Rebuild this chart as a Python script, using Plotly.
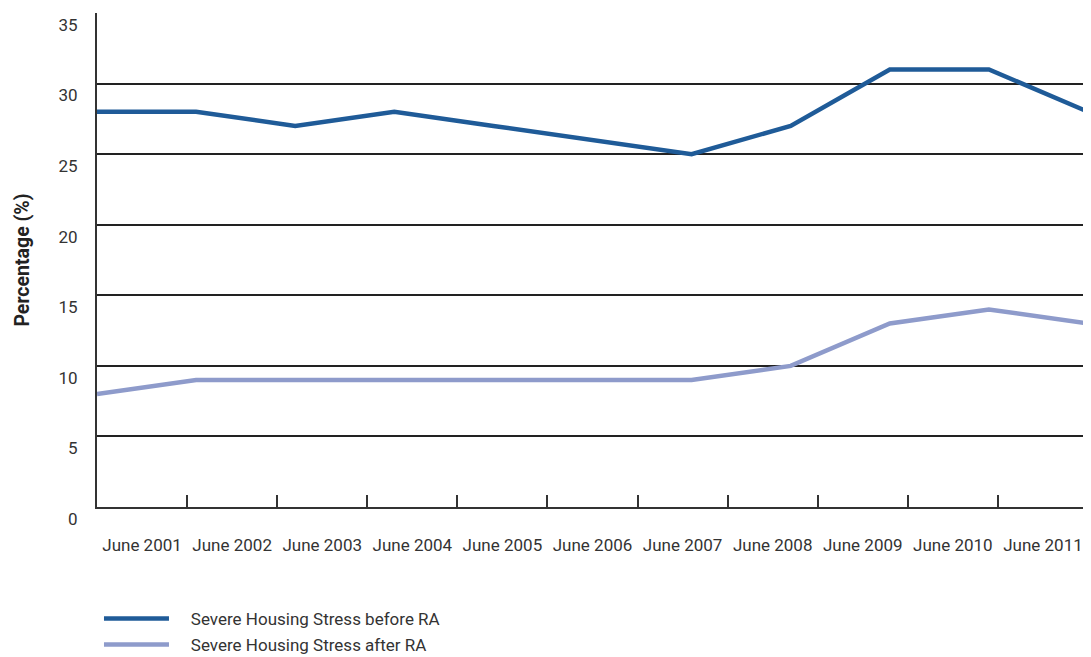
import plotly.graph_objects as go

categories = ["June 2001", "June 2002", "June 2003", "June 2004", "June 2005", "June 2006",
              "June 2007", "June 2008", "June 2009", "June 2010", "June 2011"]
before_ra = [28, 28, 27, 28, 27, 26, 25, 27, 31, 31, 28]
after_ra = [8, 9, 9, 9, 9, 9, 9, 10, 13, 14, 13]
y_ticks = [0, 5, 10, 15, 20, 25, 30, 35]

DARK = "#1f5b98"
LIGHT = "#8e9bcb"
FONT = "Roboto"
TXT = "#333333"

fig = go.Figure()

# invisible carrier trace for the category axis (labels + boundary ticks)
fig.add_trace(go.Scatter(x=categories, y=[None] * len(categories), xaxis="x", yaxis="y",
                         showlegend=False, hoverinfo="skip", mode="lines"))

fig.add_trace(go.Scatter(x=categories, y=before_ra, xaxis="x2", yaxis="y", mode="lines",
                         name="&nbsp;&nbsp;&nbsp;&nbsp;Severe Housing Stress before RA",
                         line=dict(color=DARK, width=4.5), legendgroup="a"))
fig.add_trace(go.Scatter(x=categories, y=after_ra, xaxis="x2", yaxis="y", mode="lines",
                         name="&nbsp;&nbsp;&nbsp;&nbsp;Severe Housing Stress after RA",
                         line=dict(color=LIGHT, width=4.5), legendgroup="b"))

fig.update_layout(
    width=1083, height=649,
    margin=dict(l=89, r=3, t=5, b=150, autoexpand=False),
    paper_bgcolor="white", plot_bgcolor="white",
    font=dict(family=FONT, size=17, color=TXT),
    xaxis=dict(
        type="category", categoryorder="array", categoryarray=categories,
        range=[-0.5, len(categories) - 0.5],
        tickson="boundaries", ticks="inside", ticklen=12, tickwidth=1.5, tickcolor=TXT,
        showgrid=False, showline=True, linecolor=TXT, linewidth=2,
        ticklabelstandoff=22, tickfont=dict(size=17, color=TXT), tickangle=0,
        zeroline=False, fixedrange=True, automargin=False,
    ),
    xaxis2=dict(
        type="category", categoryorder="array", categoryarray=categories,
        range=[0, len(categories) - 1],
        overlaying="x", visible=False, fixedrange=True,
    ),
    yaxis=dict(
        range=[0, 35], tickvals=y_ticks,
        showgrid=True, gridcolor="#222222", gridwidth=2,
        showline=True, linecolor=TXT, linewidth=2,
        zeroline=False, ticks="",
        ticklabelposition="outside bottom", ticklabelstandoff=14,
        tickfont=dict(size=17, color=TXT),
        title=dict(text="<b>Percentage (%)</b>", font=dict(size=19.5, color="#222222"), standoff=24),
        fixedrange=True, automargin=False,
    ),
    legend=dict(
        x=0.002, y=-0.19, xanchor="left", yanchor="top",
        orientation="v", itemwidth=65, tracegroupgap=1,
        font=dict(size=17, color=TXT), bgcolor="rgba(0,0,0,0)",
    ),
    showlegend=True,
)

fig.write_html("out.html")
